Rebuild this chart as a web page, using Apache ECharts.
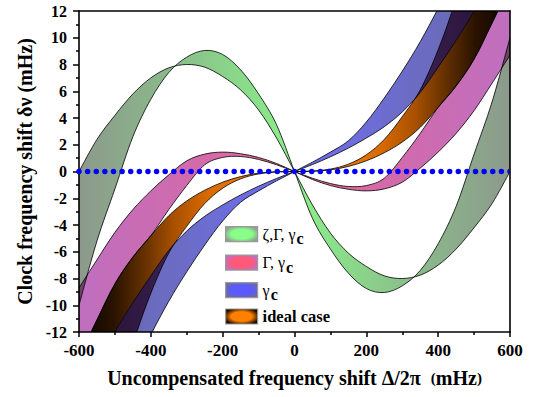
<!DOCTYPE html>
<html><head><meta charset="utf-8">
<script src="https://cdn.jsdelivr.net/npm/echarts@6/dist/echarts.min.js"></script>
<style>html,body{margin:0;padding:0;background:#fff}#c{width:543px;height:397px}</style>
</head><body><div id="c"></div>
<script>
// ---- data ----
const xValues = [-600,-550,-500,-450,-400,-350,-300,-250,-200,-150,-100,-50,0,50,100,150,200,250,300,350,400,450,500,550,600];
// ζ,Γ, γc band (two boundary curves)
const greenA = [-10.0,-5.2,-1.3,2.6,5.4,7.4,8.55,9.05,8.75,7.6,5.8,3.5,0,-3.5,-5.8,-7.6,-8.75,-9.05,-8.55,-7.4,-5.4,-2.6,1.3,5.2,10.0];
const greenB = [0,2.4,4.2,5.8,7.0,7.75,8.0,7.8,7.1,6.1,4.6,2.5,0,-2.5,-4.6,-6.1,-7.1,-7.8,-8.0,-7.75,-7.0,-5.8,-4.2,-2.4,0];
// Γ, γc band
const pinkA = [-8.7,-6.6,-4.55,-2.85,-1.45,-0.25,0.8,1.3,1.45,1.33,1.05,0.6,0,-0.6,-1.05,-1.33,-1.45,-1.3,-0.8,0.25,1.45,2.85,4.55,6.6,8.7];
const pinkB = [-13.9,-11.1,-8.4,-6.4,-4.8,-2.85,-1.05,0.5,1.05,1.12,0.9,0.5,0,-0.5,-0.9,-1.12,-1.05,-0.5,1.05,2.85,4.8,6.4,8.4,11.1,13.9];
// ideal case band
const orangeA = [-13.9,-11.1,-8.4,-6.4,-4.8,-3.3,-2.2,-1.4,-0.8,-0.38,-0.12,-0.02,0,0.02,0.12,0.38,0.8,1.4,2.2,3.3,4.8,6.4,8.4,11.1,13.9];
const orangeB = [-28,-22.5,-17.5,-12.9,-9.1,-6.1,-4.1,-2.4,-1.25,-0.55,-0.18,-0.03,0,0.03,0.18,0.55,1.25,2.4,4.1,6.1,9.1,12.9,17.5,22.5,28];
// γc band
const blueA = [-17.5,-14.6,-12.0,-9.8,-7.8,-5.9,-4.45,-3.35,-2.5,-1.75,-1.1,-0.52,0,0.52,1.1,1.75,2.5,3.35,4.45,5.9,7.8,9.8,12.0,14.6,17.5];
const blueB = [-24.4,-21.3,-17.9,-14.9,-12.2,-9.7,-7.5,-5.5,-3.7,-2.3,-1.45,-0.7,0,0.7,1.45,2.3,3.7,5.5,7.5,9.7,12.2,14.9,17.9,21.3,24.4];
// dotted reference line
const zeroLine = [[-600,0],[600,0]];
const legendNames = ['ζ,Γ, γc','Γ, γc','γc','ideal case'];
const xRange = [-600, 600, 200];
const yRange = [-12, 12, 2];

// ---- styling ----
const FONT = 'Liberation Serif';
function symStops(half){
  const out = half.slice();
  for (let i = half.length - 2; i >= 0; i--) out.push([1 - half[i][0], half[i][1]]);
  return out.map(([o,c]) => ({offset:o, color:c}));
}
const greenHalf = [[0,'#8c998c'],[0.2,'#8bb88b'],[0.4,'#8ade8a'],[0.5,'#8cf08c']];
const pinkHalf = [[0,'#bf6fbf'],[0.3,'#d46aa9'],[0.42,'#e5689a'],[0.5,'#f06090']];
const blueHalf = [[0,'#6868a8'],[0.25,'#6c6cc8'],[0.5,'#6e6ef8']];
const orangeHalf = [[0,'#0a0400'],[0.08,'#2a1200'],[0.15,'#643000'],[0.22,'#a85000'],[0.3,'#d86a00'],[0.4,'#f47a00'],[0.5,'#ff8000']];
const overlapHalf = [[0,'#251230'],[0.15,'#321a45'],[0.25,'#3f2a60'],[0.5,'#4a3a80']];

function curvePath(pts, move){
  const f = v => v.toFixed(2);
  let d = (move ? 'M' : 'L') + f(pts[0][0]) + ',' + f(pts[0][1]);
  for (let i = 0; i < pts.length - 1; i++){
    const p0 = pts[i-1] || pts[i], p1 = pts[i], p2 = pts[i+1], p3 = pts[i+2] || pts[i+1];
    const c1 = [p1[0] + (p2[0]-p0[0])/6, p1[1] + (p2[1]-p0[1])/6];
    const c2 = [p2[0] - (p3[0]-p1[0])/6, p2[1] - (p3[1]-p1[1])/6];
    d += 'C' + f(c1[0]) + ',' + f(c1[1]) + ' ' + f(c2[0]) + ',' + f(c2[1]) + ' ' + f(p2[0]) + ',' + f(p2[1]);
  }
  return d;
}

function renderBands(params, api){
  const cs = params.coordSys;
  const P = ys => xValues.map((x,i) => api.coord([x, ys[i]]));
  const band = (a,b) => curvePath(P(a), true) + curvePath(P(b).reverse(), false) + 'Z';
  const grad = half => new echarts.graphic.LinearGradient(cs.x, 0, cs.x + cs.width, 0, symStops(half), true);
  const G = band(greenA, greenB), PK = band(pinkA, pinkB), O = band(orangeA, orangeB), B = band(blueA, blueB);
  const fillEl = (d, fill, clip) => {
    const e = {type:'path', shape:{pathData:d}, style:{fill:fill, stroke:'none'}, silent:true};
    if (clip) e.clipPath = {type:'path', shape:{pathData:clip}};
    return e;
  };
  const lines = [greenA,greenB,pinkA,pinkB,orangeA,orangeB,blueA,blueB].map(ys => ({
    type:'path', shape:{pathData: curvePath(P(ys), true)},
    style:{fill:'none', stroke:'#000', lineWidth:0.8}, silent:true
  }));
  return {type:'group', children:[
    fillEl(PK, grad(pinkHalf)),
    fillEl(O, grad(orangeHalf)),
    fillEl(B, grad(blueHalf)),
    fillEl(G, grad(greenHalf)),
    fillEl(G, '#6c4266', PK),
    fillEl(B, grad(overlapHalf), O)
  ].concat(lines)};
}

const legendColors = [['#88ff88','#8fa08f'],['#ff5878','#c070c0'],['#5a5aff','#6a6aa8'],['#ff8000','#1a0800']];
const legendTops = [226, 254.5, 282, 308];
const legendFmt = {
  'ζ,Γ, γc':'{g|ζ,Γ, γ}{s|c}',
  'Γ, γc':'{g|Γ, γ}{s|c}',
  'γc':'{g|γ}{s|c}',
  'ideal case':'{b|ideal case}'
};
const rich = {
  g:{fontFamily:FONT, fontSize:16, fontWeight:'normal', color:'#000'},
  s:{fontFamily:FONT, fontSize:16, fontWeight:'bold', color:'#000', padding:[9,0,0,1]},
  b:{fontFamily:FONT, fontSize:16.5, fontWeight:'bold', color:'#000'}
};

const axisFont = {fontFamily:FONT, fontWeight:'bold', color:'#000'};
const option = {
  animation:false,
  backgroundColor:'#fff',
  grid:{left:79, top:11, width:431, height:321},
  legend: legendNames.map((n,i) => ({
    data:[{name:n, itemStyle:{
      color:new echarts.graphic.RadialGradient(0.5,0.5,1.15,[{offset:0,color:legendColors[i][0]},{offset:0.28,color:legendColors[i][0]},{offset:0.5,color:legendColors[i][1]},{offset:1,color:legendColors[i][1]}]),
      borderColor:'#9a9a9a', borderWidth:1.2}}],
    left:225, top:legendTops[i], orient:'vertical', icon:'rect', itemWidth:32, itemHeight:15,
    padding:0, itemGap:0, selectedMode:false,
    formatter: name => legendFmt[name],
    textStyle:{rich:rich}
  })),
  xAxis:[{
    type:'value', min:xRange[0], max:xRange[1], interval:xRange[2], z:10,
    name:'{t|Uncompensated frequency shift Δ/2π  }{p|(}{t|mHz}{p|)}',
    nameLocation:'middle', nameGap:36,
    nameTextStyle:{rich:{t:{fontFamily:FONT, fontWeight:'bold', fontSize:20, color:'#000'}, p:{fontFamily:FONT, fontWeight:'bold', fontSize:15, color:'#000'}}},
    axisLine:{onZero:false, lineStyle:{color:'#000', width:1.6}},
    axisTick:{length:5, lineStyle:{color:'#000', width:1.5}},
    minorTick:{show:true, splitNumber:2, length:3, lineStyle:{color:'#000', width:1.5}},
    axisLabel:{...axisFont, fontSize:17, margin:10},
    splitLine:{show:false}
  },{
    type:'value', position:'top', min:xRange[0], max:xRange[1], z:10,
    axisLine:{onZero:false, lineStyle:{color:'#000', width:1.6}},
    axisTick:{show:false}, axisLabel:{show:false}, splitLine:{show:false}
  }],
  yAxis:[{
    type:'value', min:yRange[0], max:yRange[1], interval:yRange[2], z:10,
    name:'Clock frequency shift δν (mHz)', nameLocation:'middle', nameGap:44,
    nameTextStyle:{fontFamily:FONT, fontWeight:'bold', fontSize:20, color:'#000'},
    axisLine:{onZero:false, lineStyle:{color:'#000', width:1.6}},
    axisTick:{length:6, lineStyle:{color:'#000', width:1.5}},
    minorTick:{show:true, splitNumber:2, length:3, lineStyle:{color:'#000', width:1.5}},
    axisLabel:{...axisFont, fontSize:16, margin:12},
    splitLine:{show:false}
  },{
    type:'value', position:'right', min:yRange[0], max:yRange[1], z:10,
    axisLine:{onZero:false, lineStyle:{color:'#000', width:1.6}},
    axisTick:{show:false}, axisLabel:{show:false}, splitLine:{show:false}
  }],
  series:[
    {type:'custom', name:'bands', data:[[0,0]], xAxisIndex:0, yAxisIndex:0, clip:true, z:2, renderItem:renderBands, silent:true},
    ...legendNames.map(n => ({type:'custom', name:n, data:[], renderItem:() => ({type:'group', children:[]})})),
    {type:'line', name:'zero', data:zeroLine, symbol:'none', clip:false, z:12, silent:true,
     lineStyle:{color:'#0000ff', width:5.5, type:[0, 8.62], cap:'round'}}
  ]
};
const chart = echarts.init(document.getElementById('c'), null, {renderer:'svg', width:543, height:397});
chart.setOption(option);
</script>
</body></html>
